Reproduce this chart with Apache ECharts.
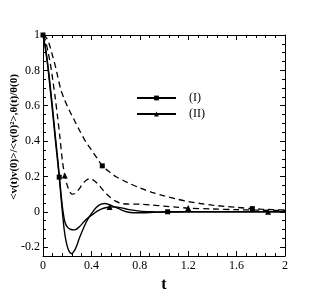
<!DOCTYPE html>
<html>
<head>
<meta charset="utf-8">
<script src="https://cdn.jsdelivr.net/npm/echarts@6/dist/echarts.min.js"></script>
<style>html,body{margin:0;padding:0;background:#fff;}#c{width:325px;height:289px;}</style>
</head>
<body>
<div id="c"></div>
<script>
// Solid curve, series (I)
const tA = [0,0.02,0.04,0.06,0.08,0.1,0.12,0.134,0.148,0.16,0.175,0.19,0.21,0.236,0.26,0.28,0.3,0.33,0.36,0.4,0.44,0.48,0.51,0.55,0.6,0.65,0.69,0.75,0.85,0.95,1.03,1.2,1.4,1.6,1.8,2.0];
const vA = [1,0.92,0.82,0.69,0.56,0.42,0.29,0.196,0.09,0.0,-0.1,-0.165,-0.215,-0.237,-0.22,-0.19,-0.15,-0.1,-0.055,-0.01,0.025,0.043,0.047,0.04,0.025,0.01,0.0,-0.005,-0.005,-0.002,0,0,0,0,0,0];
// Solid curve, series (II)
const tB = [0,0.02,0.04,0.06,0.08,0.1,0.12,0.134,0.148,0.16,0.18,0.2,0.23,0.263,0.3,0.34,0.37,0.42,0.46,0.5,0.55,0.6,0.65,0.7,0.8,0.9,1.0,1.2,1.4,1.6,1.86,2.0];
const vB = [1,0.93,0.83,0.71,0.58,0.44,0.31,0.21,0.11,0.03,-0.055,-0.085,-0.1,-0.102,-0.085,-0.055,-0.035,-0.01,0.008,0.02,0.027,0.028,0.022,0.014,0.004,0.0,-0.002,0,0,0,0,0];
// Dashed curve, series (II)
const tC = [0,0.02,0.04,0.06,0.08,0.1,0.12,0.14,0.16,0.18,0.2,0.22,0.24,0.26,0.28,0.3,0.33,0.36,0.385,0.41,0.45,0.5,0.55,0.6,0.65,0.7,0.8,0.9,1.0,1.1,1.2,1.4,1.6,1.8,2.0];
const vC = [1,0.97,0.91,0.84,0.75,0.65,0.54,0.42,0.29,0.205,0.15,0.115,0.1,0.102,0.115,0.13,0.16,0.18,0.187,0.182,0.16,0.12,0.085,0.06,0.047,0.044,0.043,0.038,0.032,0.026,0.021,0.016,0.012,0.009,0.007];
// Dashed curve, series (I)
const tD = [0,0.02,0.04,0.06,0.08,0.1,0.12,0.148,0.18,0.216,0.25,0.3,0.35,0.4,0.45,0.49,0.55,0.6,0.7,0.8,0.9,1.0,1.1,1.2,1.3,1.4,1.5,1.6,1.73,1.8,1.9,2.0];
const vD = [1,0.99,0.97,0.93,0.88,0.83,0.77,0.69,0.63,0.576,0.53,0.463,0.4,0.35,0.3,0.26,0.225,0.2,0.165,0.135,0.11,0.09,0.073,0.058,0.047,0.038,0.031,0.025,0.018,0.015,0.012,0.01];
// Marker positions
const tSq = [0,0.134,0.49,1.03,1.73];
const vSq = [1,0.196,0.26,0.0,0.018];
const tTr = [0.18,0.55,1.2,1.86];
const vTr = [0.205,0.027,0.021,0.0];
const legendNames = ['(I)','(II)'];
const yTitle = '<v(t)v(0)>/<v(0)\u00B2>,\u03B8(t)/\u03B8(0)';
const xTitle = 't';

const zip = (t, v) => t.map((x, i) => [x, v[i]]);
const black = '#000';
const serif = 'Liberation Serif';

function axisCommon(pos, showLabel) {
  return {
    type: 'value', position: pos,
    axisLine: { show: true, onZero: false, lineStyle: { color: black, width: 1 } },
    axisTick: { show: true, inside: true, length: 5, lineStyle: { color: black } },
    minorTick: { show: true, inside: true, length: 3, lineStyle: { color: black } },
    splitLine: { show: false },
    axisLabel: { show: showLabel, color: black, fontFamily: serif, fontSize: 12, margin: 4 }
  };
}
const xa0 = Object.assign(axisCommon('bottom', true), { min: 0, max: 2, interval: 0.4, name: xTitle, nameLocation: 'middle', nameGap: 9, nameTextStyle: { fontFamily: serif, fontWeight: 'bold', fontSize: 16, color: black } });
xa0.minorTick.splitNumber = 5;
const xa1 = Object.assign(axisCommon('top', false), { min: 0, max: 2, interval: 0.4 });
xa1.minorTick.splitNumber = 5;
const yFmt = v => (Math.abs(v * 5 - Math.round(v * 5)) < 1e-6 ? String(Math.round(v * 5) / 5) : '');
const ya0 = Object.assign(axisCommon('left', true), { min: -0.25, max: 1, splitNumber: 6 });
ya0.axisLabel.formatter = yFmt; ya0.axisLabel.margin = 3;
ya0.minorTick.splitNumber = 4;
const ya1 = Object.assign(axisCommon('right', false), { min: -0.25, max: 1, splitNumber: 6 });
ya1.minorTick.splitNumber = 4;

const lineS = (data, dashed) => ({
  type: 'line', data: data, symbol: 'none', smooth: 0.3, silent: true,
  lineStyle: { color: black, width: dashed ? 1.3 : 1.4, type: dashed ? [6, 4] : 'solid' }
});
const markS = (data, sym, size) => ({
  type: 'scatter', data: data, symbol: sym, symbolSize: size, silent: true,
  itemStyle: { color: black, opacity: 1, borderWidth: 0 }
});

const chart = echarts.init(document.getElementById('c'), null, { renderer: 'canvas' });
chart.setOption({
  animation: false,
  backgroundColor: '#fff',
  grid: { left: 43, right: 40, top: 35, bottom: 33, containLabel: false, outerBoundsMode: 'none' },
  xAxis: [xa0, xa1],
  yAxis: [ya0, ya1],
  legend: {
    data: legendNames, orient: 'vertical', left: 136, top: 92, itemGap: 4, padding: 0,
    itemWidth: 39, itemHeight: 6,
    textStyle: { fontFamily: serif, fontSize: 12, color: black, padding: [0, 0, 0, 8] }
  },
  graphic: [{
    type: 'text', x: 14, y: 137, rotation: Math.PI / 2,
    style: { text: yTitle, fontFamily: serif, fontWeight: 'bold', fontSize: 11, fill: black, align: 'center', verticalAlign: 'middle' }
  }],
  series: [
    lineS(zip(tA, vA), false),
    lineS(zip(tB, vB), false),
    lineS(zip(tC, vC), true),
    lineS(zip(tD, vD), true),
    markS(zip(tSq, vSq), 'rect', 5),
    markS(zip(tTr, vTr), 'triangle', 6),
    { name: legendNames[0], type: 'line', data: [], symbol: 'rect', symbolSize: 5, itemStyle: { color: black }, lineStyle: { color: black, width: 1.3 } },
    { name: legendNames[1], type: 'line', data: [], symbol: 'triangle', symbolSize: 6, itemStyle: { color: black }, lineStyle: { color: black, width: 1.3 } }
  ]
});
</script>
</body>
</html>
